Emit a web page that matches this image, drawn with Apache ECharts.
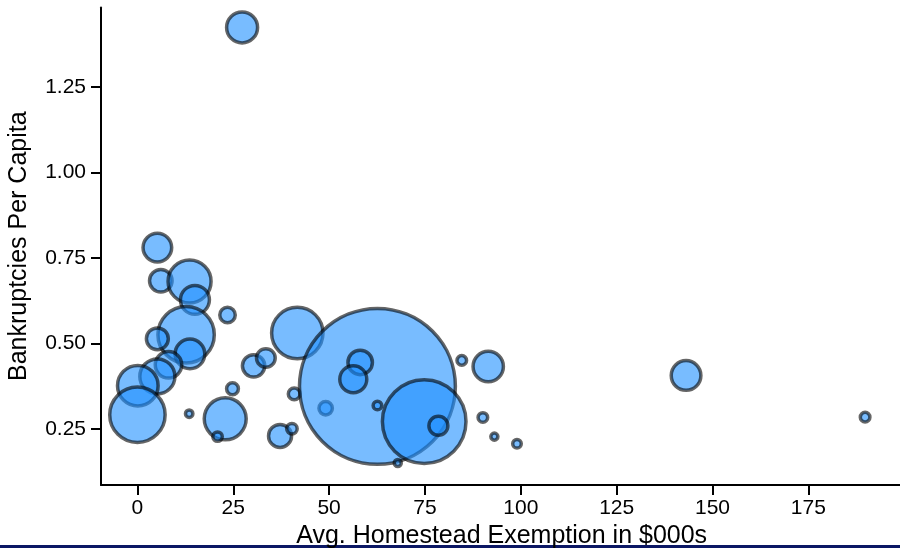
<!DOCTYPE html>
<html>
<head>
<meta charset="utf-8">
<script src="https://cdn.jsdelivr.net/npm/echarts@6/dist/echarts.min.js"></script>
<style>html,body{margin:0;padding:0;background:#fff;}#c{width:900px;height:548px;}</style>
</head>
<body>
<div id="c"></div>
<script>
// Avg. homestead exemption ($000s)
var exemption = [27.3, 5.2, 6.1, 13.6, 15.0, 23.5, 12.7, 5.2, 13.7, 8.1,
                 5.2, 0.1, 0.0, 13.5, 22.9, 20.9, 24.8, 30.3, 33.5, 41.7,
                 37.2, 40.3, 40.9, 49.1, 62.6, 58.1, 56.3, 62.6, 74.8, 78.5,
                 67.9, 84.6, 91.5, 90.1, 93.1, 99.0, 143.1, 189.8];
// Bankruptcies per capita
var bankruptcies = [1.425, 0.781, 0.684, 0.682, 0.628, 0.584, 0.526, 0.514, 0.470, 0.438,
                    0.404, 0.377, 0.292, 0.295, 0.280, 0.228, 0.368, 0.435, 0.458, 0.531,
                    0.230, 0.251, 0.353, 0.311, 0.375, 0.445, 0.396, 0.319, 0.272, 0.260,
                    0.151, 0.451, 0.433, 0.284, 0.228, 0.207, 0.407, 0.285];
// Bubble weight (area-proportional)
var weight = [9.6, 8.2, 5.1, 18.5, 8.4, 2.4, 31.8, 4.8, 8.8, 7.0,
              12.3, 16.5, 30.7, 0.55, 17.6, 0.9, 1.4, 5.0, 3.5, 26.4,
              5.3, 1.1, 1.4, 1.8, 243, 6.0, 7.3, 0.74, 69.9, 3.6,
              0.5, 0.92, 9.2, 0.92, 0.5, 0.74, 8.8, 0.92];
var xTicks = [0, 25, 50, 75, 100, 125, 150, 175];
var yTicks = [0.25, 0.5, 0.75, 1.0, 1.25];

var data = exemption.map(function (x, i) { return [x, bankruptcies[i], weight[i]]; });

var chart = echarts.init(document.getElementById('c'), null, {renderer: 'canvas'});
var font = 'Liberation Sans, Arial, Helvetica, sans-serif';
chart.setOption({
  animation: false,
  backgroundColor: '#ffffff',
  grid: {left: 101, top: 7.4, width: 801.3, height: 477.6, containLabel: false, outerBoundsMode: 'none'},
  xAxis: {
    type: 'value', min: -9.5, max: 199.5,
    name: 'Avg. Homestead Exemption in $000s', nameLocation: 'middle', nameGap: 37,
    nameTextStyle: {fontFamily: font, fontSize: 25, color: '#000'},
    axisLine: {show: true, onZero: false, lineStyle: {color: '#000', width: 2}},
    axisTick: {show: true, length: 10, lineStyle: {color: '#000', width: 2}, customValues: xTicks},
    axisLabel: {fontFamily: font, fontSize: 21, color: '#000', margin: 13, customValues: xTicks},
    splitLine: {show: false}
  },
  yAxis: {
    type: 'value', min: 0.0865, max: 1.4835,
    name: 'Bankruptcies Per Capita', nameLocation: 'middle', nameGap: 69, nameRotate: 90,
    nameTextStyle: {fontFamily: font, fontSize: 25, color: '#000'},
    axisLine: {show: true, onZero: false, lineStyle: {color: '#000', width: 2}},
    axisTick: {show: true, length: 10, lineStyle: {color: '#000', width: 2}, customValues: yTicks},
    axisLabel: {fontFamily: font, fontSize: 21, color: '#000', margin: 15, customValues: yTicks,
      formatter: function (v) { return v.toFixed(2); }},
    splitLine: {show: false}
  },
  series: [{
    type: 'scatter',
    data: data,
    symbol: 'circle',
    symbolSize: function (d) { return Math.sqrt(d[2]) * 10; },
    itemStyle: {opacity: 1, color: 'rgba(30,144,255,0.6)', borderColor: 'rgba(0,0,0,0.6)', borderWidth: 3.5},
    emphasis: {disabled: true}
  }],
  graphic: [{
    type: 'rect', left: 0, top: 545, shape: {width: 900, height: 3},
    style: {fill: '#0b1764'}, silent: true
  }]
});
</script>
</body>
</html>
